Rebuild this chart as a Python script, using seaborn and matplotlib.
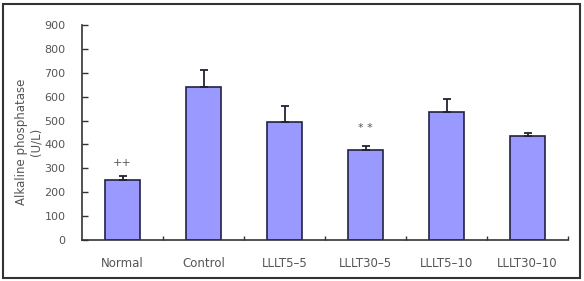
import matplotlib
matplotlib.use("Agg")
import matplotlib.pyplot as plt
import seaborn as sns
import pandas as pd
import numpy as np
from matplotlib.patches import Rectangle

categories = ["Normal", "Control", "LLLT5\u20135", "LLLT30\u20135", "LLLT5\u201310", "LLLT30\u201310"]
means = [250, 640, 493, 375, 536, 434]
errors = [19, 73, 67, 18, 55, 14]
annotations = ["++", "", "", "* *", "", ""]
annot_y = [322, None, None, 469, None, None]
yticks = [0, 100, 200, 300, 400, 500, 600, 700, 800, 900]

sns.set_style("white")
plt.rcParams['font.family'] = ['DejaVu Sans']
plt.rcParams['xtick.direction'] = 'in'
plt.rcParams['ytick.direction'] = 'in'

df = pd.DataFrame({"group": categories, "value": means})

fig = plt.figure(figsize=(5.84, 2.81), dpi=100)
ax = fig.add_axes([82/584, 1-240/281, (568-82)/584, (240-25)/281])

text_c = "#555555"
sns.barplot(data=df, x="group", y="value", ax=ax, color="#9999FF", saturation=1,
            width=0.42, edgecolor="#222244", linewidth=1.2, errorbar=None)
xs = np.arange(len(categories))
ax.errorbar(xs, means, yerr=[np.zeros(len(errors)), errors], fmt="none",
            ecolor="#222233", elinewidth=1.3, capsize=3, capthick=1.3)

for x, t, y in zip(xs, annotations, annot_y):
    if t:
        ax.text(x, y, t, ha="center", va="center", fontsize=8, color=text_c)

ax.set_xlim(-0.5, len(categories) - 0.5)
ax.set_ylim(0, 900)
ax.set_yticks(yticks)
ax.set_yticklabels([str(v) for v in yticks], fontsize=8, color=text_c)
ax.set_xticks(xs)
ax.set_xticklabels(categories, fontsize=8.5, color=text_c)
ax.set_xticks(np.arange(len(categories)) + 0.5, minor=True)
ax.tick_params(axis="x", which="major", bottom=False, length=0, pad=12)
ax.tick_params(axis="x", which="minor", bottom=True, direction="in", length=3, width=1, color="#333333")
ax.tick_params(axis="y", which="major", left=True, direction="in", length=4, width=1, color="#333333", pad=12)
ax.set_xlabel("")
ax.set_ylabel("Alkaline phosphatase\n(U/L)", fontsize=8.5, color=text_c, linespacing=1.15)
ax.yaxis.set_label_coords(-0.082, 0.456)
for s in ["top", "right"]:
    ax.spines[s].set_visible(False)
for s in ["left", "bottom"]:
    ax.spines[s].set_color("#333333")
    ax.spines[s].set_linewidth(1.2)

fig.patches.append(Rectangle((3/584, 3/281), 577/584, 274/281, transform=fig.transFigure,
                             fill=False, edgecolor="#333333", linewidth=1.5))

fig.savefig("out.png", dpi=100)
